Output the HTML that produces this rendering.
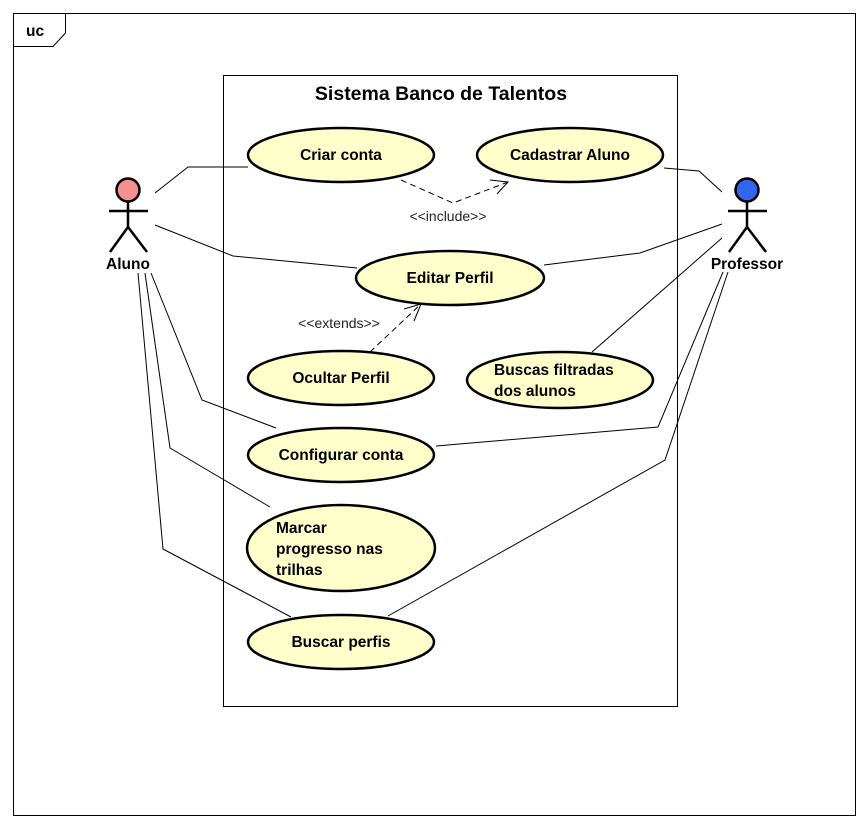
<!DOCTYPE html>
<html><head><meta charset="utf-8"><style>
html,body{margin:0;padding:0;background:#fff;}
svg{display:block;}
text{font-family:"Liberation Sans",Arial,sans-serif;}
.b{font-weight:bold;font-size:15.5px;}
</style></head><body>
<svg width="868" height="828" viewBox="0 0 868 828" xmlns="http://www.w3.org/2000/svg">
<rect x="0" y="0" width="868" height="828" fill="#fff"/>
<rect x="13.5" y="13.5" width="842" height="802" fill="none" stroke="#000" stroke-width="1"/>
<polyline points="13.5,46.5 53,46.5 65.5,33 65.5,13.5" fill="none" stroke="#000"/>
<text x="26" y="36" class="b">uc</text>
<rect x="223.5" y="75.5" width="454" height="631" fill="none" stroke="#000"/>
<text x="441" y="100" font-weight="bold" text-anchor="middle" style="font-size:19.5px">Sistema Banco de Talentos</text>

<g fill="none" stroke="#000" stroke-width="1">
<polyline points="155,193 188,167 248,167"/>
<polyline points="155,225 233,256 357,268"/>
<polyline points="151,273 202,400 276,428"/>
<polyline points="145,273 170,448 270,507"/>
<polyline points="138,273 163,549 291,617"/>
<polyline points="664,168 699,171 722,192"/>
<polyline points="544,265 640,253 722,224"/>
<polyline points="592,352 722,238"/>
<polyline points="436,446 658,427 723,272"/>
<polyline points="388,616 665,460 728,272"/>
<polyline points="401,180 453,203 508,182" stroke-dasharray="6,4"/>
<polyline points="490,180 508,182 497,194"/>
<polyline points="370,352 421,304" stroke-dasharray="6,4"/>
<polyline points="404,309 421,304 414,321"/>
</g>
<text x="448" y="221" font-size="14" text-anchor="middle" fill="#222">&lt;&lt;include&gt;&gt;</text>
<text x="339" y="328" font-size="14" text-anchor="middle" fill="#222">&lt;&lt;extends&gt;&gt;</text>

<g fill="#ffffcc" stroke="#000" stroke-width="2.5">
<ellipse cx="341" cy="155" rx="93" ry="27"/>
<ellipse cx="570" cy="155" rx="93" ry="27"/>
<ellipse cx="450" cy="278" rx="94" ry="27"/>
<ellipse cx="341" cy="378" rx="93" ry="27"/>
<ellipse cx="560" cy="380" rx="93" ry="28"/>
<ellipse cx="341" cy="455" rx="93" ry="27"/>
<ellipse cx="341" cy="548" rx="94" ry="43"/>
<ellipse cx="341" cy="642" rx="93" ry="27"/>
</g>
<g class="b" fill="#000">
<text x="341" y="160" text-anchor="middle">Criar conta</text>
<text x="570" y="160" text-anchor="middle">Cadastrar Aluno</text>
<text x="450" y="283" text-anchor="middle">Editar Perfil</text>
<text x="341" y="383" text-anchor="middle">Ocultar Perfil</text>
<text x="494" y="375">Buscas filtradas</text>
<text x="494" y="396">dos alunos</text>
<text x="341" y="460" text-anchor="middle">Configurar conta</text>
<text x="276" y="533">Marcar</text>
<text x="276" y="554">progresso nas</text>
<text x="276" y="575">trilhas</text>
<text x="341" y="647" text-anchor="middle">Buscar perfis</text>
</g>

<g stroke="#000" stroke-width="2.5" fill="none">
<circle cx="128" cy="190" r="11.5" fill="#f49090"/>
<line x1="128" y1="202" x2="128" y2="227"/>
<line x1="109" y1="211" x2="148" y2="211"/>
<polyline points="110,252 128,227 147,252"/>
<circle cx="747" cy="190" r="11.5" fill="#3366ee"/>
<line x1="747" y1="202" x2="747" y2="227"/>
<line x1="728" y1="211" x2="767" y2="211"/>
<polyline points="729,252 747,227 766,252"/>
</g>
<text x="128" y="269" class="b" text-anchor="middle">Aluno</text>
<text x="747" y="269" class="b" text-anchor="middle">Professor</text>
</svg>
</body></html>
